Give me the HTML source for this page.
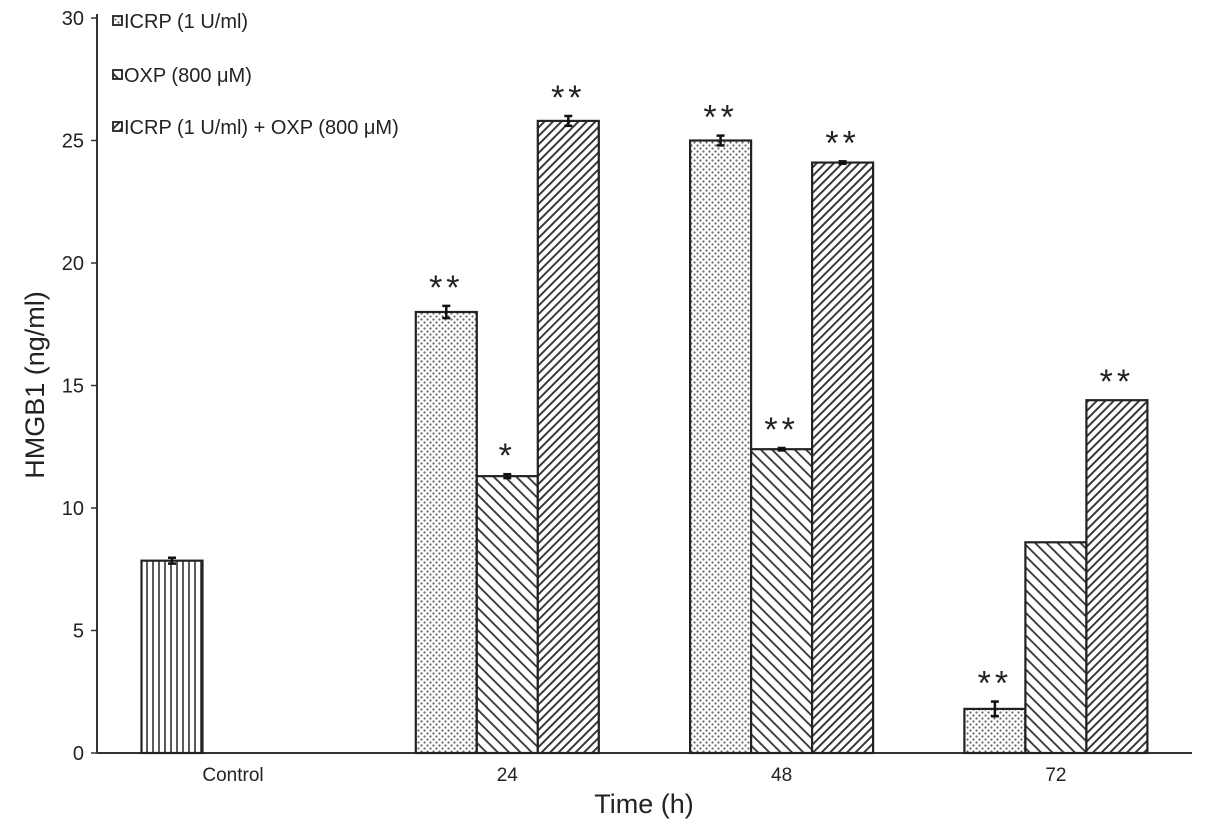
<!DOCTYPE html>
<html><head><meta charset="utf-8"><style>
body{margin:0;background:#fff;}
svg text{font-family:"Liberation Sans",Arial,sans-serif;fill:#222;}
</style></head><body>
<svg id="chart" width="1205" height="835" viewBox="0 0 1205 835">
<defs>
<pattern id="pv" width="6" height="6" patternUnits="userSpaceOnUse"><rect width="6" height="6" fill="#fff"/><line x1="3" y1="0" x2="3" y2="6" stroke="#333" stroke-width="1.6"/></pattern>
<pattern id="pd" width="6" height="6" patternUnits="userSpaceOnUse"><rect width="6" height="6" fill="#fff"/><circle cx="1.5" cy="1.5" r="1.1" fill="#666"/><circle cx="4.5" cy="4.5" r="1.1" fill="#666"/></pattern>
<pattern id="pb" width="8" height="8" patternUnits="userSpaceOnUse" patternTransform="rotate(45)"><rect width="8" height="8" fill="#fff"/><line x1="0" y1="4" x2="8" y2="4" stroke="#333" stroke-width="1.8"/></pattern>
<pattern id="pf" width="6" height="6" patternUnits="userSpaceOnUse" patternTransform="rotate(-45)"><rect width="6" height="6" fill="#fff"/><line x1="0" y1="3" x2="6" y2="3" stroke="#333" stroke-width="1.9"/></pattern>
</defs>
<g id="plot"></g>
</svg>
<script>
const categories=["Control","24","48","72"];
const controlValue=[7.85];
const controlErr=[0.12];
const icrpValues=[null,18.0,25.0,1.8];
const icrpErr=[0,0.25,0.2,0.3];
const oxpValues=[null,11.3,12.4,8.6];
const oxpErr=[0,0.08,0.05,0];
const comboValues=[null,25.8,24.1,14.4];
const comboErr=[0,0.2,0.05,0];
const icrpStars=["","**","**","**"];
const oxpStars=["","*","**",""];
const comboStars=["","**","**","**"];
const yTicks=[0,5,10,15,20,25,30];

const NS="http://www.w3.org/2000/svg";
const g=document.getElementById('plot');
const y0=753,yTop=18,yMax=30;
const ys=v=>y0-(v/yMax)*(y0-yTop);
const cx=i=>233+i*274.3;
const bw=61;
function mk(t,a,txt){const e=document.createElementNS(NS,t);for(const k in a)e.setAttribute(k,a[k]);if(txt!==undefined)e.textContent=txt;g.appendChild(e);return e;}
let e=mk('line',{x1:97,y1:14,x2:97,y2:y0,stroke:'#333','stroke-width':2});


e=mk('line',{x1:97,y1:y0,x2:1192,y2:y0,stroke:'#333','stroke-width':2});


yTicks.forEach(t=>{
 mk('line',{x1:91,y1:ys(t),x2:97,y2:ys(t),stroke:'#333','stroke-width':1.5});
 e=mk('text',{x:84,y:ys(t)+7,'text-anchor':'end','font-size':20},t);
 
 
});
categories.forEach((c,i)=>{
 e=mk('text',{x:cx(i),y:781,'text-anchor':'middle','font-size':19},c);
 
 
});
e=mk('text',{x:644,y:813,'text-anchor':'middle','font-size':27},'Time (h)');


e=mk('text',{x:0,y:0,'text-anchor':'middle','font-size':27,transform:'translate(44,385) rotate(-90)'},'HMGB1 (ng/ml)');


function bar(x,v,err,fill,stars,name){
 const r=mk('rect',{x:x,y:ys(v),width:bw,height:y0-ys(v),fill:fill,stroke:'#222','stroke-width':2.2});
 
 
 const m=x+bw/2;
 if(err>0){
  mk('line',{x1:m,y1:ys(v+err),x2:m,y2:ys(v-err),stroke:'#111','stroke-width':2.5});
  mk('line',{x1:m-4,y1:ys(v+err),x2:m+4,y2:ys(v+err),stroke:'#111','stroke-width':2.5});
  mk('line',{x1:m-4,y1:ys(v-err),x2:m+4,y2:ys(v-err),stroke:'#111','stroke-width':2.5});
 }
 if(stars){const s=mk('text',{x:m,y:ys(v+err)-7,'text-anchor':'middle','font-size':34,'letter-spacing':'4'},stars);
  
  }
}
bar(cx(0)-91.5,controlValue[0],controlErr[0],'url(#pv)','', 'bar-control');
for(let i=1;i<categories.length;i++){
 bar(cx(i)-91.5,icrpValues[i],icrpErr[i],'url(#pd)',icrpStars[i],'bar-icrp-'+categories[i]);
 bar(cx(i)-30.5,oxpValues[i],oxpErr[i],'url(#pb)',oxpStars[i],'bar-oxp-'+categories[i]);
 bar(cx(i)+30.5,comboValues[i],comboErr[i],'url(#pf)',comboStars[i],'bar-combo-'+categories[i]);
}
const leg=[['ICRP (1 U/ml)','url(#pd)',27],['OXP (800 μM)','url(#pb)',81],['ICRP (1 U/ml) + OXP (800 μM)','url(#pf)',133]];
leg.forEach(l=>{
 const r=mk('rect',{x:113,y:l[2]-11,width:9,height:9,fill:l[1],stroke:'#222','stroke-width':1.8});
 
 
 const t=mk('text',{x:124,y:l[2]+1,'font-size':20},l[0]);
 
 
});
</script>
</body></html>
